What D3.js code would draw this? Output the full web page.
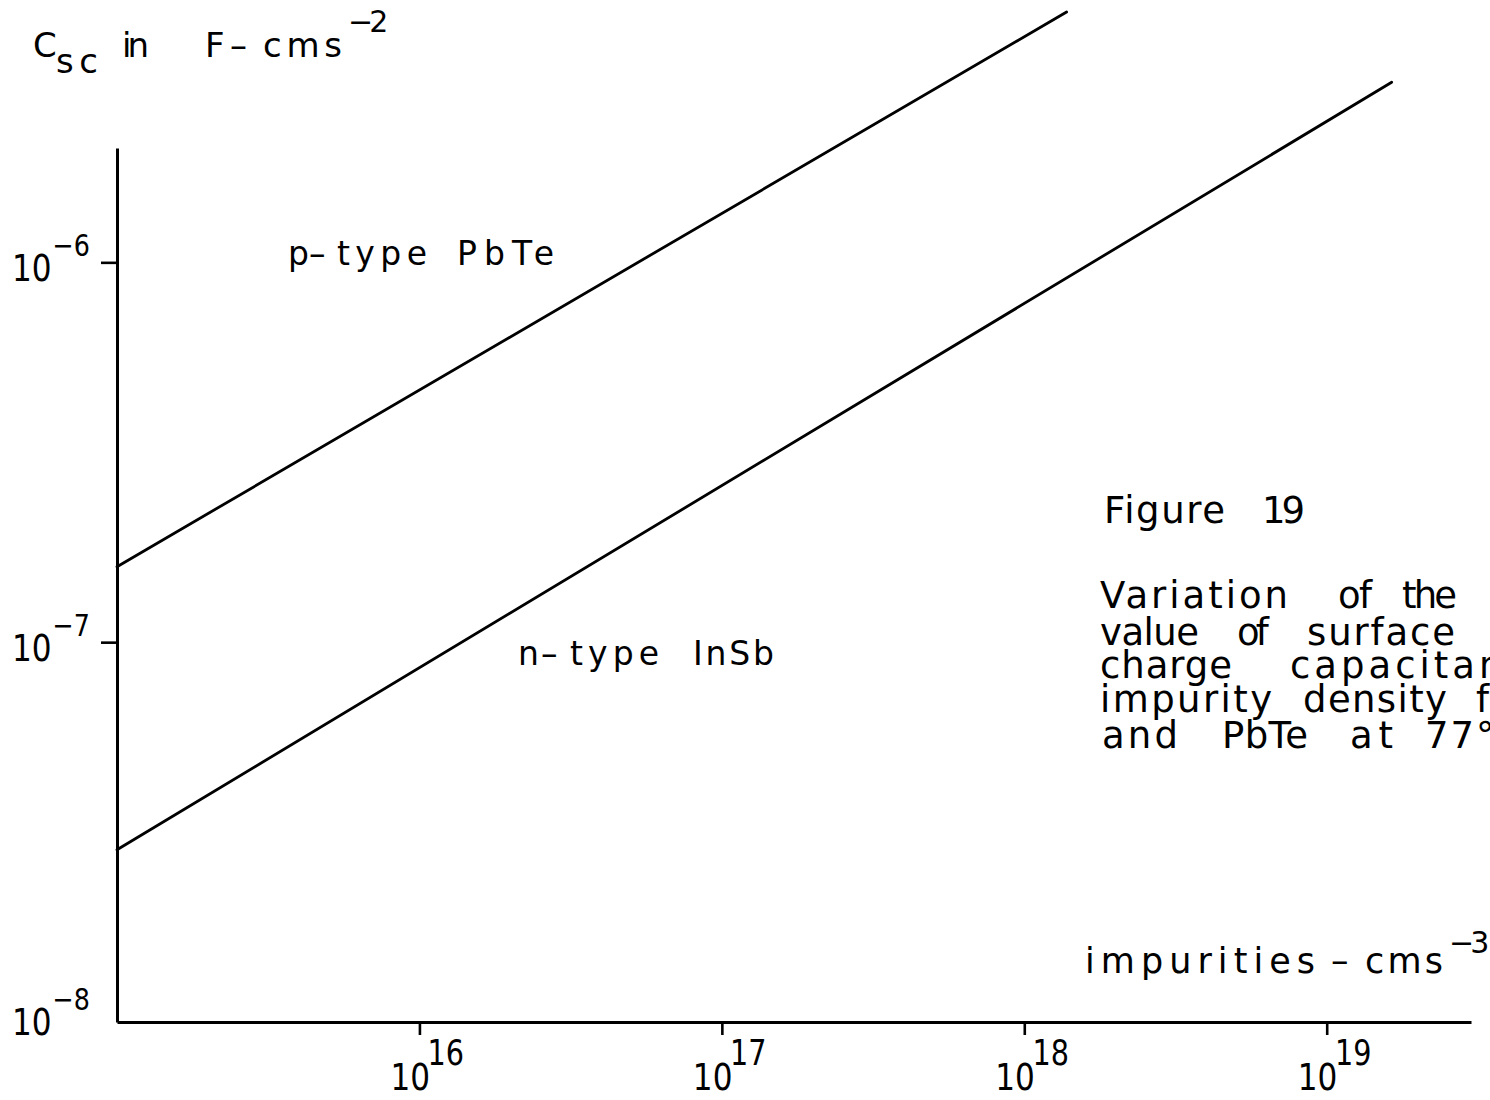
<!DOCTYPE html>
<html>
<head>
<meta charset="utf-8">
<script src="https://cdn.jsdelivr.net/npm/d3@7"></script>
<style>
  html, body { margin: 0; padding: 0; background: #fff; }
  svg { display: block; }
  text { font-family: "DejaVu Sans", sans-serif; fill: #000; }
</style>
</head>
<body>
<svg id="chart" width="1490" height="1100"></svg>
<script>
// Surface charge capacitance vs impurity density (log-log), 77 K
const impurityTicks = [1e16, 1e17, 1e18, 1e19];
const impurityTickExponents = ["16", "17", "18", "19"];
const capacitanceTicks = [1e-8, 1e-7, 1e-6];
const capacitanceTickExponents = ["\u22128", "\u22127", "\u22126"];

// p-type PbTe: impurity density (cm^-3) and capacitance (F cm^-2)
const pbteDensity = [1e15, 1.38e18];
const pbteCapacitance = [1.58e-7, 4.56e-6];
// n-type InSb
const insbDensity = [1e15, 1.64e19];
const insbCapacitance = [2.84e-8, 2.98e-6];

const svg = d3.select("#chart");

const x = d3.scaleLog().domain([1e15, 3e19]).range([117, 1471]);
const y = d3.scaleLog().domain([1e-8, 2e-6]).range([1022, 148]);

// axes
const xAxis = d3.axisBottom(x).tickValues(impurityTicks).tickSize(13).tickSizeOuter(0).tickFormat("");
const yAxis = d3.axisLeft(y).tickValues(capacitanceTicks.slice(1)).tickSize(16).tickSizeOuter(0).tickFormat("");

const gx = svg.append("g").attr("transform", `translate(0,${y(1e-8)})`).call(xAxis);
const gy = svg.append("g").attr("transform", `translate(${x(1e15)},0)`).call(yAxis);
[gx, gy].forEach(g => {
  g.select(".domain").attr("stroke", "#000").attr("stroke-width", 3);
  g.selectAll(".tick line").attr("stroke", "#000").attr("stroke-width", 2.6);
});

// power-of-ten labels in narrow stencil-style digits
function powerLabel(parent, x0, y0, exp, baseSize, supSize, supDy, supDx) {
  const t = parent.append("text")
    .attr("transform", `translate(${x0},${y0}) scale(0.82,1)`)
    .attr("font-size", baseSize);
  t.append("tspan").text("10");
  t.append("tspan").attr("font-size", supSize).attr("dy", supDy).attr("dx", supDx).text(exp);
  return t;
}

const gxLabels = svg.append("g");
impurityTicks.forEach((d, i) =>
  powerLabel(gxLabels, x(d) - 29, 1090, impurityTickExponents[i], 38, 35, -25, -3));

const gyLabels = svg.append("g");
capacitanceTicks.forEach((d, i) =>
  powerLabel(gyLabels, 12, y(d) + (d === 1e-8 ? 13 : 19), capacitanceTickExponents[i], 38, 31, -25, 1));

// the two curves
const line = d3.line().x(d => x(d[0])).y(d => y(d[1]));
const series = [
  d3.zip(pbteDensity, pbteCapacitance),
  d3.zip(insbDensity, insbCapacitance)
];
svg.append("g").selectAll("path")
  .data(series)
  .join("path")
  .attr("d", line)
  .attr("fill", "none")
  .attr("stroke", "#000")
  .attr("stroke-width", 2.8)
  .attr("stroke-linecap", "round");

// lettering: each word starts at a given x and is spaced out to a given width
function letter(words, baseline, size) {
  const t = svg.append("text").attr("y", baseline).attr("font-size", size);
  words.forEach(w => {
    const s = t.append("tspan").attr("x", w[1]).text(w[0]);
    if (w[2]) {
      const natural = s.node().getComputedTextLength();
      const n = Math.max(1, w[0].length - 1);
      const ls = Math.max(-4, (w[2] - natural) / n);
      s.attr("letter-spacing", ls.toFixed(2));
    } else if (w[3] !== undefined) {
      s.attr("letter-spacing", w[3]);
    }
  });
  return t;
}

// curve labels
letter([["p", 288], ["\u2013", 309], ["type", 337, 90], ["PbTe", 457, 97]], 265, 33);
letter([["n", 518], ["\u2013", 541], ["type", 570, 89], ["InSb", 693, 81]], 665, 33);

// y axis title
letter([["C", 33, 20]], 57, 34);
letter([["sc", 56, 42]], 73, 34);
letter([["in", 122, 27], ["F", 205], ["\u2013", 230], ["cms", 263, 79]], 57, 34);
letter([["\u22122", 348, 33]], 32, 30);

// x axis title
letter([["impurities", 1085, 230], ["\u2013", 1331], ["cms", 1365, 78]], 973, 35);
letter([["\u22123", 1449, 33]], 953, 30);

// figure caption
letter([["Figure", 1104, 121], ["19", 1262, 31]], 523, 37);
letter([["Variation", 1100, 188], ["of", 1338, 34], ["the", 1402, 55]], 608, 37);
letter([["value", 1100, 99], ["of", 1237, 26], ["surface", 1307, 148]], 645, 37);
letter([["charge", 1100, 132], ["capacitance", 1290, null, 4]], 678, 37);
letter([["impurity", 1100, 172], ["density", 1303, 144], ["for", 1476, null, 3]], 712, 37);
letter([["and", 1102, 76], ["PbTe", 1222, 86], ["at", 1350, 43], ["77\u00b0K", 1425, null, 2]], 748, 37);
</script>
</body>
</html>
